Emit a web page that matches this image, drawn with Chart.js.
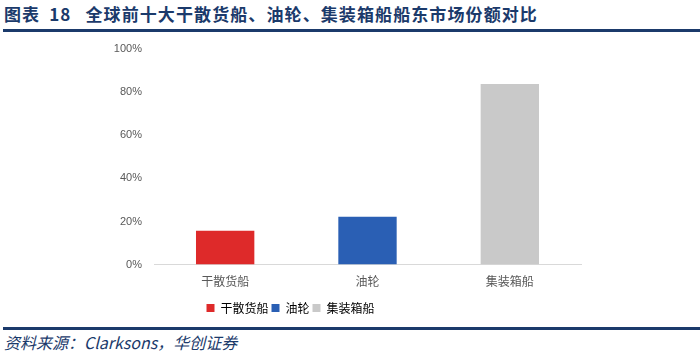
<!DOCTYPE html>
<html>
<head>
<meta charset="utf-8">
<script src="https://cdn.jsdelivr.net/npm/chart.js@4"></script>
<style>
  body { margin: 0; width: 700px; height: 352px; background: #fff; position: relative; overflow: hidden; }
  #title { position: absolute; left: 4px; top: 1px; font-family: "Noto Sans CJK SC"; font-weight: bold; font-size: 17px; color: #1b3a6b; letter-spacing: 1.1px; }
  #title .num { margin: 0 14px 0 4px; }
  .rule { position: absolute; left: 3px; right: 0; height: 3px; background: #1b3a6b; }
  #source { position: absolute; left: 4px; top: 330px; font-family: "Noto Sans CJK SC"; font-style: italic; font-size: 16px; color: #1b3a6b; }
  #wrap { position: absolute; left: 0; top: 0; width: 700px; height: 327px; }
</style>
</head>
<body>
<div id="title">图表<span class="num"> 18</span>全球前十大干散货船、油轮、集装箱船船东市场份额对比</div>
<div class="rule" style="top:29px"></div>
<div class="rule" style="top:327px"></div>
<div id="source">资料来源：Clarksons，华创证券</div>
<div id="wrap"><canvas id="chart"></canvas></div>
<script>
  // categories and shares
  const categories = ["干散货船", "油轮", "集装箱船"];
  const shares = [0.157, 0.222, 0.838];
  const barColors = ["#de2a2a", "#2a5fb4", "#c9c9c9"];
  const yTicks = [0, 0.2, 0.4, 0.6, 0.8, 1.0];

  const ctx = document.getElementById("chart").getContext("2d");
  new Chart(ctx, {
    type: "bar",
    data: {
      labels: categories,
      datasets: [{
        data: shares,
        backgroundColor: barColors,
        barPercentage: 0.82,
        categoryPercentage: 0.5
      }]
    },
    options: {
      responsive: true,
      maintainAspectRatio: false,
      animation: false,
      layout: { padding: { top: 49, right: 119, bottom: 3, left: 0 } },
      plugins: {
        tooltip: { enabled: false },
        legend: {
          position: "bottom",
          labels: {
            boxWidth: 8,
            boxHeight: 8,
            padding: 3,
            color: "#595959",
            font: { family: "Noto Sans CJK SC", size: 12 },
            generateLabels: chart => chart.data.labels.map((l, i) => ({
              text: l,
              fillStyle: barColors[i],
              strokeStyle: barColors[i],
              lineWidth: 0,
              index: i
            }))
          }
        }
      },
      scales: {
        x: {
          grid: { display: false, drawTicks: false },
          border: { color: "#d9d9d9", width: 1 },
          ticks: { color: "#595959", padding: 10, font: { family: "Noto Sans CJK SC", size: 12 } }
        },
        y: {
          min: 0,
          max: 1,
          afterFit: s => { s.width = 154; },
          afterBuildTicks: s => { s.ticks = yTicks.map(v => ({ value: v })); },
          grid: { display: false, drawTicks: false },
          border: { display: false },
          ticks: {
            color: "#595959",
            padding: 12,
            font: { family: "Liberation Sans", size: 11 },
            callback: v => Math.round(v * 100) + "%"
          }
        }
      }
    }
  });
</script>
</body>
</html>
